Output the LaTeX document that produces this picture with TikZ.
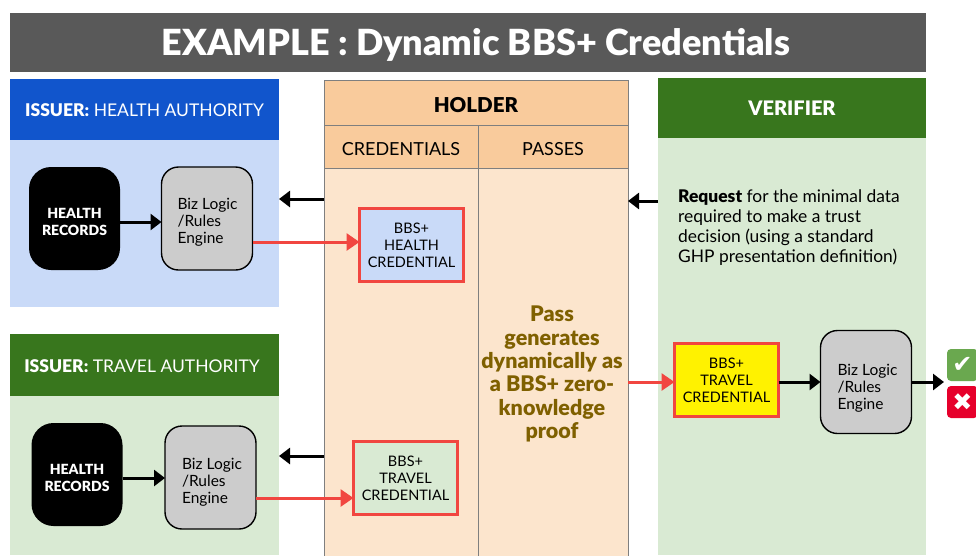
\documentclass[tikz,border=0pt]{standalone}
\usepackage{fontspec}
\setmainfont{Lato}[BoldFont={Lato Black}]
\newfontfamily\symbfont{DejaVu Sans}
\usetikzlibrary{shapes,arrows.meta,positioning}
\definecolor{titlegrey}{HTML}{595959}
\definecolor{issuerblue}{HTML}{1155CC}
\definecolor{lightblue}{HTML}{C9DAF8}
\definecolor{darkgreen}{HTML}{38761D}
\definecolor{lightgreen}{HTML}{D9EAD3}
\definecolor{headorange}{HTML}{F9CB9C}
\definecolor{lightorange}{HTML}{FCE5CD}
\definecolor{holdline}{HTML}{7F7F7F}
\definecolor{credred}{HTML}{F14640}
\definecolor{passbrown}{HTML}{7F6000}
\definecolor{okgreen}{HTML}{6AA84F}
\definecolor{nored}{HTML}{E6002B}
\tikzstyle{panel} = [rectangle,inner sep=0,outer sep=0,anchor=north west]
\tikzstyle{panelhead} = [panel,text=white,font=\fontsize{17.5}{20}\selectfont,execute at begin node={\rule{0pt}{15pt}}]
\tikzstyle{holdbox} = [panel,draw=holdline,line width=0.8pt,fill=headorange,font=\fontsize{18}{20}\selectfont,execute at begin node={\rule{0pt}{19pt}}]
\tikzstyle{holdbody} = [panel,draw=holdline,line width=0.8pt,fill=lightorange]
\tikzstyle{records} = [rectangle,rounded corners=22pt,fill=black,text=white,inner sep=0,outer sep=0,align=center,minimum width=91pt,minimum height=103pt,font=\bfseries\fontsize{14}{17}\selectfont]
\tikzstyle{engine} = [rectangle,rounded corners=17pt,draw=black,line width=1.4pt,fill=black!20,inner sep=0,outer sep=0,align=left,minimum width=91pt,minimum height=103pt,font=\fontsize{15.5}{17}\selectfont]
\tikzstyle{cred} = [rectangle,draw=credred,line width=3.8pt,inner sep=0,outer sep=0,align=center,minimum width=104pt,minimum height=73pt,font=\fontsize{14.5}{17}\selectfont]
\tikzstyle{flow} = [-{Triangle[length=11pt,width=16pt]},line width=3pt,black]
\tikzstyle{redflow} = [-{Triangle[length=13pt,width=17pt]},line width=3pt,credred]
\tikzstyle{verdict} = [rectangle,rounded corners=4pt,inner sep=0,outer sep=0,text=white,anchor=north west,minimum width=31pt,minimum height=32pt,font=\symbfont\fontsize{24}{24}\selectfont]
\def \recordstext {\rule{0pt}{17pt}HEALTH\\RECORDS}
\def \enginetext#1#2{\hspace*{#1}\rule{0pt}{#2}Biz Logic\\\hspace*{#1}/Rules\\\hspace*{#1}Engine}
\begin{document}
\begin{tikzpicture}[x=1pt,y=-1pt]
  \useasboundingbox (0,0) rectangle (976,555);
  % title
  \node[panel,fill=titlegrey,text=white,minimum width=916pt,minimum height=59pt,font=\bfseries\fontsize{36}{38}\selectfont,execute at begin node={\rule{0pt}{32pt}}] (title) at (10,13) {\hspace*{16pt}EXAMPLE : Dynamic BBS+ Credentials};
  % first issuer
  \node[panelhead,fill=issuerblue,minimum width=269pt,minimum height=61pt] (healthhead) at (10,79) {\textbf{ISSUER:} HEALTH AUTHORITY};
  \node[panel,fill=lightblue,minimum width=269pt,minimum height=167pt,anchor=north] (healthbody) at (healthhead.south) {};
  \node[records] (records1) at (74.5,218.5) {\recordstext};
  \node[engine] (engine1) at (207,218.5) {\enginetext{1pt}{18pt}};
  % second issuer
  \node[panelhead,fill=darkgreen,minimum width=269pt,minimum height=62pt] (travelhead) at (10,334) {\textbf{ISSUER:} TRAVEL AUTHORITY\hspace*{5pt}};
  \node[panel,fill=lightgreen,minimum width=269pt,minimum height=159pt,anchor=north] (travelbody) at (travelhead.south) {};
  \node[records] (records2) at (77,474.5) {\recordstext};
  \node[engine] (engine2) at (210.5,477.5) {\enginetext{3pt}{20pt}};
  % holder
  \node[holdbox,minimum width=304pt,minimum height=45pt,font=\fontsize{20.5}{22}\selectfont,execute at begin node={\rule{0pt}{21pt}}] (holder) at (324,80) {\textbf{HOLDER}};
  \node[holdbox,minimum width=154pt,minimum height=43pt] (credhead) at (324,125) {CREDENTIALS};
  \node[holdbox,minimum width=150pt,minimum height=43pt] (passhead) at (478,125) {PASSES};
  \node[holdbody,minimum width=154pt,minimum height=390pt] (credbody) at (324,168) {};
  \node[holdbody,minimum width=150pt,minimum height=390pt] (passbody) at (478,168) {};
  \node[cred,fill=lightblue] (cred1) at (411.5,245) {\rule{0pt}{12pt}BBS+\\HEALTH\\CREDENTIAL};
  \node[cred,fill=lightgreen] (cred2) at (405.5,478) {\rule{0pt}{12pt}BBS+\\TRAVEL\\CREDENTIAL};
  \node[align=center,text=passbrown,inner sep=0,font=\bfseries\fontsize{21.5}{23.3}\selectfont] (passtext) at (552,374) {Pass\\generates\\dynamically as\\a BBS+ zero-\\knowledge\\proof};
  % verifier
  \node[panelhead,fill=darkgreen,minimum width=268pt,minimum height=60pt,font=\bfseries\fontsize{20}{22}\selectfont] (verhead) at (658,78) {VERIFIER};
  \node[panel,fill=lightgreen,minimum width=268pt,minimum height=417pt,anchor=north] (verbody) at (verhead.south) {};
  \node[inner sep=0,anchor=north west,align=left,font=\fontsize{17.4}{20}\selectfont] (request) at (678,189) {\textbf{Request} for the minimal data\\required to make a trust\\decision (using a standard\\GHP presentation definition)};
  \node[cred,fill=yellow] (cred3) at (726.5,380) {\rule{0pt}{12pt}BBS+\\TRAVEL\\CREDENTIAL};
  \node[engine] (engine3) at (866,382) {\enginetext{3pt}{23pt}};
  \node[verdict,fill=okgreen] (yes) at (947,349) {✔};
  \node[verdict,fill=nored] (no) at (947,386) {✖};
  % connectors
  \coordinate (red1) at (0,242);
  \coordinate (red2) at (0,498);
  \coordinate (red3) at (0,382);
  \coordinate (req1) at (0,199);
  \coordinate (req2) at (0,456);
  \coordinate (req3) at (0,201);
  \coordinate (rec1) at (0,222);
  \coordinate (rec2) at (0,478);
  \coordinate (verdictin) at (944,382);
  \draw[flow] (records1.east |- rec1) -- (engine1.west |- rec1);
  \draw[flow] (records2.east |- rec2) -- (engine2.west |- rec2);
  \draw[redflow] (engine1.east |- red1) -- (cred1.west |- red1);
  \draw[redflow] (engine2.east |- red2) -- (cred2.west |- red2);
  \draw[flow] (credbody.west |- req1) -- (healthbody.east |- req1);
  \draw[flow] (credbody.west |- req2) -- (travelbody.east |- req2);
  \draw[flow] (verbody.west |- req3) -- (passbody.east |- req3);
  \draw[redflow] (passbody.east |- red3) -- (cred3.west |- red3);
  \draw[flow] (cred3.east |- red3) -- (engine3.west |- red3);
  \draw[flow] (engine3.east |- red3) -- (verdictin);
\end{tikzpicture}
\end{document}
